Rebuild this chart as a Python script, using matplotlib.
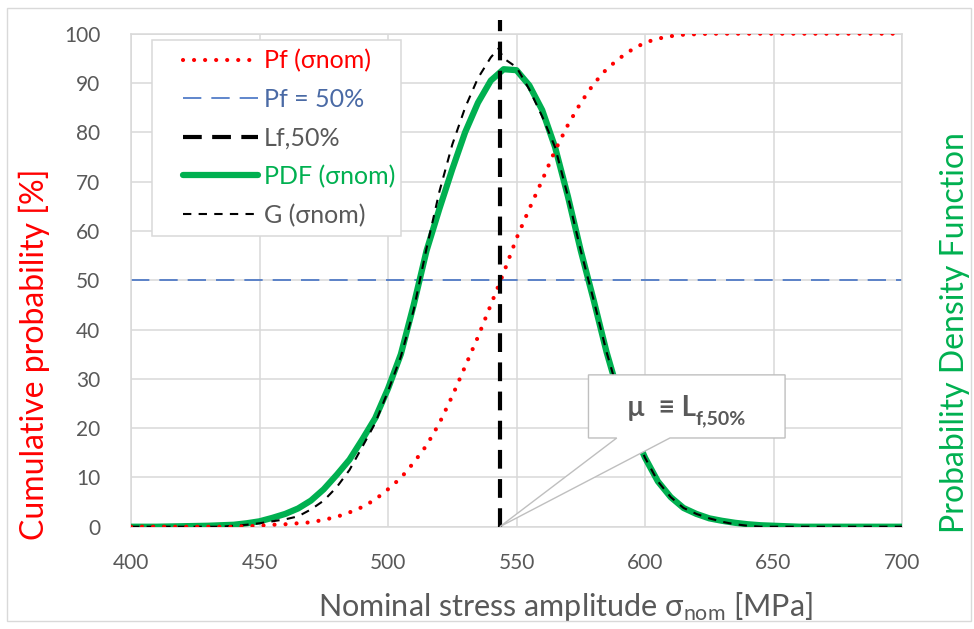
import matplotlib
matplotlib.use('Agg')
import matplotlib.pyplot as plt
from matplotlib.patches import Polygon, Rectangle

plt.rcParams['font.family'] = ['Lato', 'DejaVu Sans']
plt.rcParams['mathtext.default'] = 'regular'

# ---- data ----
stress = [400, 405, 410, 415, 420, 425, 430, 435, 440, 445,
          450, 455, 460, 465, 470, 475, 480, 485, 490, 495,
          500, 505, 510, 515, 520, 525, 530, 535, 540, 545,
          550, 555, 560, 565, 570, 575, 580, 585, 590, 595,
          600, 605, 610, 615, 620, 625, 630, 635, 640, 645,
          650, 655, 660, 665, 670, 675, 680, 685, 690, 695, 700]

pf_cum = [0, 0, 0, 0, 0, 0, 0, 0, 0, 0.1,
          0.2, 0.4, 0.5, 0.7, 0.9, 1.4, 2.0, 2.9, 4.0, 5.5,
          7.6, 9.9, 13.0, 16.5, 21.0, 26.5, 32.5, 38.5, 45.0, 51.5,
          58.5, 64.5, 70.3, 76.3, 81.5, 86.0, 89.8, 92.8, 95.0, 96.8,
          98.2, 99.0, 99.5, 99.8, 99.9, 100, 100, 100, 100, 100,
          100, 100, 100, 100, 100, 100, 100, 100, 100, 100, 100]

pdf = [0, 0, 0, 0.05, 0.1, 0.15, 0.2, 0.3, 0.4, 0.7,
       1.1, 1.8, 2.6, 3.7, 5.3, 7.6, 10.5, 13.6, 17.7, 22.0,
       28.0, 35.0, 45.0, 56.0, 64.5, 72.5, 80.0, 86.0, 90.5, 92.8,
       92.6, 89.5, 84.5, 77.0, 67.0, 56.0, 46.0, 35.5, 26.5, 20.0,
       14.0, 9.2, 6.0, 3.8, 2.6, 1.7, 1.2, 0.8, 0.5, 0.3,
       0.2, 0.1, 0, 0, 0, 0, 0, 0, 0, 0, 0]

g_stress = [400, 405, 410, 415, 420, 425, 430, 435, 440, 445,
            450, 455, 460, 465, 470, 475, 480, 485, 490, 495,
            500, 505, 510, 515, 520, 525, 530, 535, 540, 543, 545,
            550, 555, 560, 565, 570, 575, 580, 585, 590, 595,
            600, 605, 610, 615, 620, 625, 630, 635, 640, 645,
            650, 655, 660, 665, 670, 675, 680, 685, 690, 695, 700]
g_val = [0, 0, 0, 0, 0, 0, 0, 0, 0.2, 0.4,
         0.7, 1.1, 1.5, 2.1, 3.5, 5.3, 8.0, 11.5, 16.2, 21.0,
         27.5, 34.5, 44.0, 56.5, 68.0, 77.5, 85.0, 91.0, 95.2, 97.0, 95.0,
         93.2, 88.7, 83.2, 77.0, 67.0, 56.0, 46.0, 35.5, 26.5, 20.0,
         14.0, 9.2, 6.0, 3.8, 2.6, 1.7, 1.0, 0.5, 0.2, 0,
         0, 0, 0, 0, 0, 0, 0, 0, 0, 0, 0]

pf50_x = [400, 700]
pf50_y = [50, 50]
lf50_x = [543.5, 543.5]
lf50_y = [0, 102.8]

labels = ['Pf (σnom)', 'Pf = 50%', 'Lf,50%', 'PDF (σnom)', 'G (σnom)']
label_colors = ['#ff0000', '#4a6aa5', '#595959', '#00b050', '#595959']

# ---- figure ----
gray = '#595959'
fig = plt.figure(figsize=(9.74, 6.29), dpi=100)
ax = fig.add_axes([0.1345, 0.1626, 0.7916, 0.7838])

ax.set_xlim(400, 700)
ax.set_ylim(0, 100)
ax.set_xticks(range(400, 701, 50))
ax.set_yticks(range(0, 101, 10))
ax.grid(True, color='#d9d9d9', lw=1.1)
ax.set_axisbelow(True)
for s in ax.spines.values():
    s.set_color('#d9d9d9')
    s.set_linewidth(1.1)
ax.tick_params(length=0, labelsize=15, labelcolor=gray)
ax.tick_params(axis='y', pad=22)
ax.tick_params(axis='x', pad=19)

l_blue, = ax.plot(pf50_x, pf50_y, color='#4472c4', lw=1.2, dashes=(11, 6), zorder=2)
l_green, = ax.plot(stress, pdf, color='#00b050', lw=4.5, solid_capstyle='round',
                   solid_joinstyle='round', zorder=3)
l_g, = ax.plot(g_stress, g_val, color='black', lw=1.5, dashes=(4, 3.5), zorder=4)
l_red, = ax.plot(stress, pf_cum, color='#ff0000', lw=3, dashes=(0.01, 2.64),
                 dash_capstyle='round', zorder=4)
l_lf, = ax.plot(lf50_x, lf50_y, color='black', lw=3, dashes=(4.5, 2.5),
                clip_on=False, zorder=6)

# legend with its own frame
ax.add_patch(Rectangle((0.027, 0.59), 0.323, 0.397, transform=ax.transAxes,
                       fc='white', ec='#d9d9d9', lw=1.1, zorder=7))
leg = ax.legend([l_red, l_blue, l_lf, l_green, l_g], labels,
                loc='upper left', bbox_to_anchor=(0.0674, 0.969),
                frameon=False, fontsize=18, handlelength=3.0,
                handletextpad=0.25, labelspacing=0.62, borderpad=0,
                borderaxespad=0)
leg.set_zorder(8)
for t, c in zip(leg.get_texts(), label_colors):
    t.set_color(c)

# callout
callout = [(578, 30.8), (654.5, 30.8), (654.5, 18), (609.7, 18),
           (543.5, 0), (589, 18), (578, 18)]
ax.add_patch(Polygon(callout, closed=True, fc='white', ec='#bfbfbf', lw=1,
                     zorder=7, clip_on=False))
mu = ax.text(593, 24.0, 'µ  ≡ L', fontsize=20, fontweight='bold', color=gray,
             ha='left', va='center', zorder=8)
ax.annotate('f,50%', xy=(1.0, 0.12), xycoords=mu, fontsize=14, fontweight='bold',
            color=gray, ha='left', va='center', zorder=8)

# axis labels
ax.set_xlabel('Nominal stress amplitude σ$_{nom}$ [MPa]', fontsize=22, color=gray)
ax.xaxis.set_label_coords(0.563, -0.128)
ax.set_ylabel('Cumulative probability [%]', fontsize=23, color='#ff0000')
ax.yaxis.set_label_coords(-0.105, 0.35)
fig.text(0.981, 0.472, 'Probability Density Function', fontsize=23, color='#00b050',
         rotation=90, ha='center', va='center')

# outer chart border
fig.patches.append(Rectangle((7 / 974, 8 / 629), 964 / 974, 613 / 629,
                             transform=fig.transFigure, fc='none', ec='#d9d9d9', lw=1))

plt.savefig('out.png', dpi=100)
